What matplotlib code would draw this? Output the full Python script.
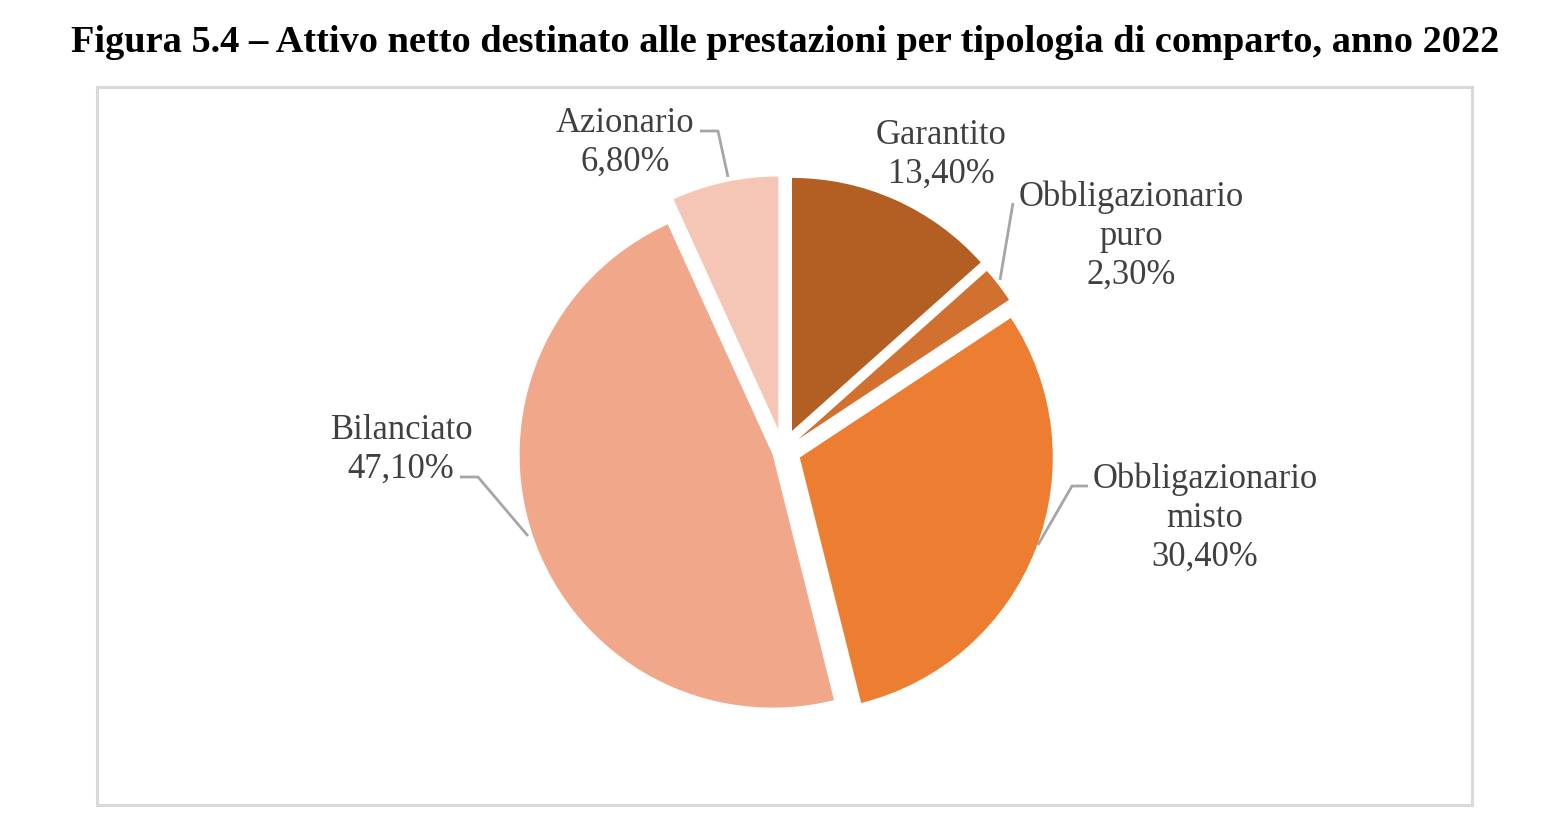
import matplotlib
matplotlib.use("Agg")
import matplotlib.pyplot as plt
from matplotlib.patches import Rectangle

# ---- data ----
categories = ["Garantito", "Obbligazionario\npuro", "Obbligazionario\nmisto", "Bilanciato", "Azionario"]
values = [13.4, 2.3, 30.4, 47.1, 6.8]
colors = ["#B35E22", "#D2702F", "#ED7D31", "#F0A78A", "#F5C6B5"]
title = "Figura 5.4 – Attivo netto destinato alle prestazioni per tipologia di comparto, anno 2022"

W, H = 1544, 836
fig = plt.figure(figsize=(W / 100, H / 100), dpi=100)
ax = fig.add_axes([0, 0, 1, 1])
ax.set_axis_off()

def Y(y):  # image y (top-down) -> data y
    return H - y

# frame
ax.add_patch(Rectangle((97, Y(805)), 1472 - 97, 805 - 87, fill=False,
                       edgecolor="#D9D9D9", linewidth=2.2, zorder=0))

R = 253
explode = [22, 19, 18, 11, 22]  # pixels (data units)
ax.pie(values, colors=colors, startangle=90, counterclock=False,
       explode=explode, radius=R, center=(783, Y(451)),
       wedgeprops=dict(linewidth=0), frame=False)

ax.set_xlim(0, W)
ax.set_ylim(0, H)
ax.set_aspect("equal", adjustable="box")

serif = ["Liberation Serif", "DejaVu Serif"]
tcol = "#404040"
label_pos = [(941, 155), (1131, 236), (1205, 518), (401, 450), (625, 143)]
for cat, v, (x, y) in zip(categories, values, label_pos):
    txt = cat + "\n" + f"{v:.2f}".replace(".", ",") + "%"
    ax.text(x, Y(y), txt, ha="center", va="center", multialignment="center",
            fontsize=24.9, family=serif, color=tcol, linespacing=1.23)

# leader lines
lc = "#A6A6A6"
leaders = [
    [(700, 131), (718, 131), (728, 177)],
    [(1013, 203), (1000, 280)],
    [(1088, 486), (1072, 486), (1038, 545)],
    [(460, 477), (478, 477), (528, 536)],
]
for pts in leaders:
    xs = [p[0] for p in pts]
    ys = [Y(p[1]) for p in pts]
    ax.plot(xs, ys, color=lc, linewidth=2, solid_capstyle="butt")

ax.text(785, Y(43), title, ha="center", va="center", fontsize=27.6,
        fontweight="bold", family=serif, color="black")

fig.savefig("out.png", dpi=100)
